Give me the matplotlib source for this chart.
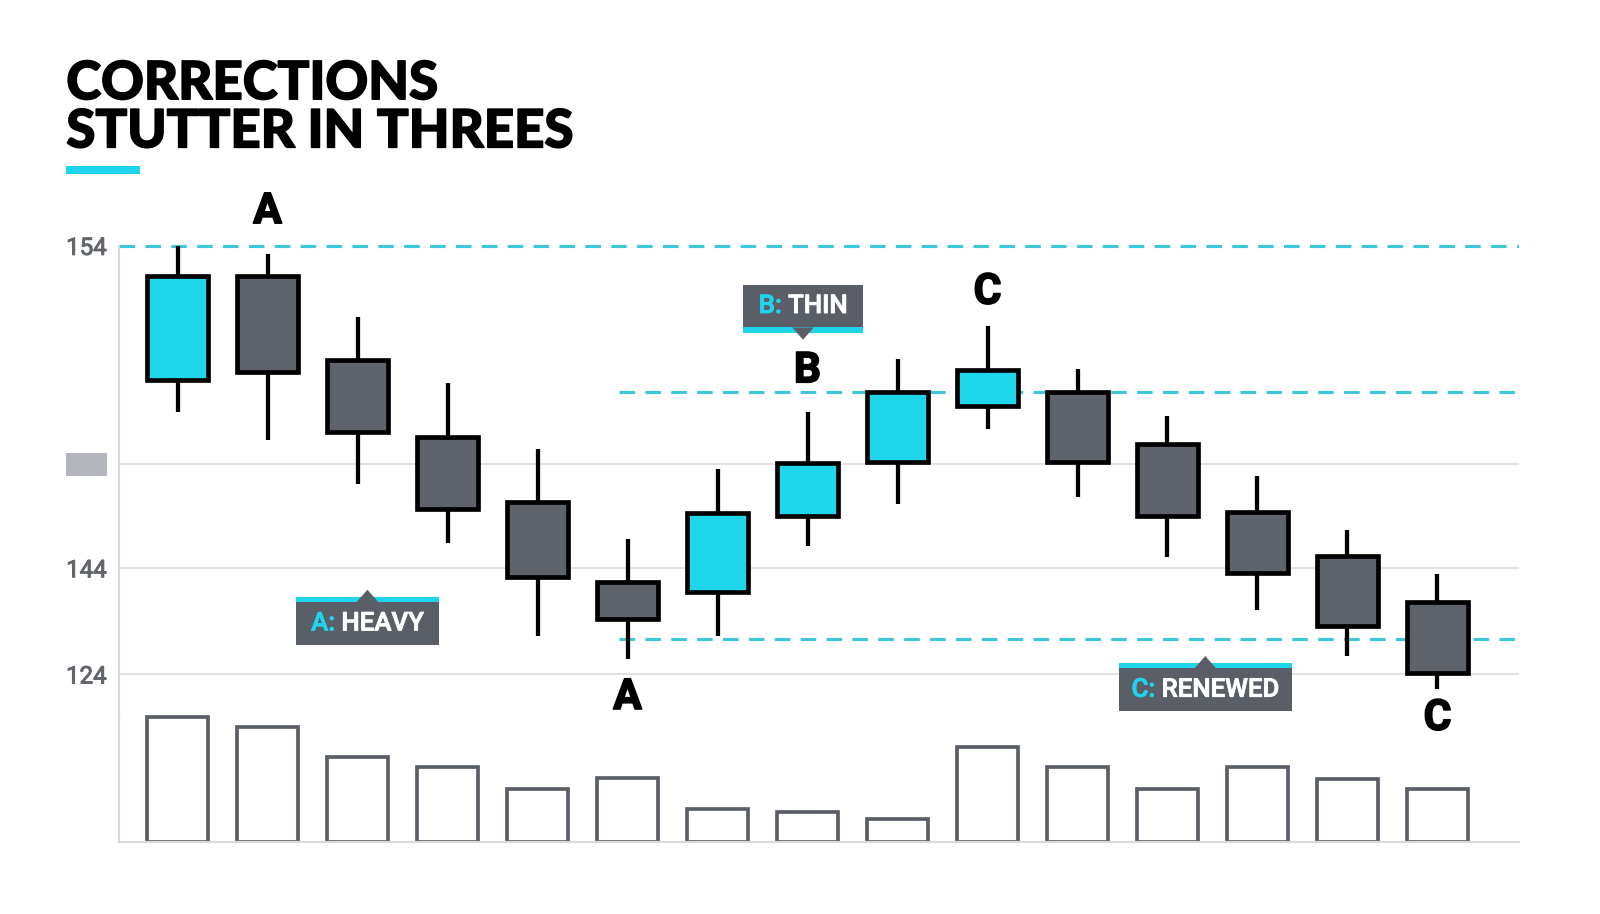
import matplotlib
matplotlib.use('Agg')
import matplotlib.pyplot as plt
import matplotlib.patheffects as pe
from matplotlib.patches import Rectangle, Polygon

# candle data (price units)
opens = [144.6, 151.9, 146.0, 140.6, 136.1, 130.5, 129.8, 135.1, 138.9, 142.8, 143.8, 140.1, 135.4, 132.3, 129.1]
closes = [151.9, 145.2, 141.0, 135.6, 130.8, 127.9, 135.3, 138.8, 143.8, 145.3, 138.9, 135.1, 131.1, 127.4, 124.1]
highs = [154.0, 153.4, 149.0, 144.4, 139.8, 133.5, 138.4, 142.4, 146.1, 148.4, 145.4, 142.1, 137.9, 134.1, 131.0]
lows = [142.4, 140.4, 137.3, 133.2, 126.7, 125.1, 126.7, 133.0, 135.9, 141.2, 136.4, 132.2, 128.5, 125.3, 123.0]
volume = [122, 113, 83, 73, 52, 63, 32, 29, 22, 93, 73, 52, 73, 62, 52]

# wave letters: (candle index, letter, above/below)
wave_labels = [(1, 'A', 'top'), (5, 'A', 'bottom'), (7, 'B', 'top'), (9, 'C', 'top'), (14, 'C', 'bottom')]
label_gap = [42, 38, 40, 33, 29]  # px from wick end to letter centre

# y ticks (positions, labels as shown)
tick_pos = [154.0, 138.71, 131.43, 124.0]
tick_lab = ['154', '', '144', '124']

# dashed levels: (price, start x)
levels = [(154.0, -0.65), (143.79, 4.9), (126.5, 4.9)]

# callouts: (prefix, text, centre x, box bottom price, pointer side, width)
callouts = [('A:', 'HEAVY', 2.11, 126.07, 'up', 1.587),
            ('B:', 'THIN', 6.95, 148.29, 'down', 1.338),
            ('C:', 'RENEWED', 11.42, 121.43, 'up', 1.916)]

CYAN = '#1fd5ec'
DASH = '#3cc8d9'
GRAY = '#5f646c'
DARK = '#5a5e66'
GRID = '#e2e2e2'

# coordinates below were read on a 1568 px wide view of the 1600 px chart
W, H = 1568.0, 914 * 1568 / 1600
S = 1600 / 1568

plt.rcParams['font.family'] = ['Roboto', 'DejaVu Sans']

fig = plt.figure(figsize=(16, 9.14), dpi=100)
ax = fig.add_axes([117 / W, 1 - 700 / H, 1372 / W, 510 / H])
axv = fig.add_axes([117 / W, 1 - 825 / H, 1372 / W, 125 / H], sharex=ax)
ax.set_zorder(3)
ax.patch.set_visible(False)

ax.set_xlim(-0.646, 14.91)
ax.set_ylim(121.21, 157.64)

for p in tick_pos[1:]:
    ax.axhline(p, color=GRID, lw=1.5 * S, zorder=0)

for lv, x0 in levels:
    ax.plot([x0, 14.91], [lv, lv], color=DASH, lw=2.2 * S, ls=(0, (5, 3.3)), zorder=1)

w = 0.68
for i in range(len(opens)):
    o, c, h, l = opens[i], closes[i], highs[i], lows[i]
    up = c > o
    ax.plot([i, i], [l, h], color='black', lw=3 * S, zorder=2, solid_capstyle='butt')
    ax.add_patch(Rectangle((i - w / 2, min(o, c)), w, abs(c - o),
                           facecolor=CYAN if up else GRAY, edgecolor='black', lw=3.3 * S, zorder=3))

for (i, letter, side), g in zip(wave_labels, label_gap):
    off = g * S * 0.72
    if side == 'top':
        xy, dy = (i, highs[i]), off
    else:
        xy, dy = (i, lows[i]), -off
    ax.annotate(letter, xy, xytext=(0, dy), textcoords='offset points',
                ha='center', va='center', fontsize=30 * S, fontweight='bold', color='black',
                path_effects=[pe.withStroke(linewidth=1.2, foreground='black')])

# callout boxes
bh = 3.0
strip = 0.36
fs = 18.2 * S
renderer = fig.canvas.get_renderer()
for pre, txt, xc, yb, side, bw in callouts:
    ax.add_patch(Rectangle((xc - bw / 2, yb), bw, bh, facecolor=DARK, edgecolor='none', zorder=5, clip_on=False))
    if side == 'up':
        sy = yb + bh
        ax.add_patch(Rectangle((xc - bw / 2, sy), bw, strip, facecolor=CYAN, edgecolor='none', zorder=5, clip_on=False))
        ax.add_patch(Polygon([(xc - 0.12, sy), (xc + 0.12, sy), (xc, sy + 0.86)], closed=True,
                             facecolor=DARK, edgecolor='none', zorder=6, clip_on=False))
    else:
        sy = yb - strip
        ax.add_patch(Rectangle((xc - bw / 2, sy), bw, strip, facecolor=CYAN, edgecolor='none', zorder=5, clip_on=False))
        ax.add_patch(Polygon([(xc - 0.12, yb), (xc + 0.12, yb), (xc, sy - 0.5)], closed=True,
                             facecolor=DARK, edgecolor='none', zorder=6, clip_on=False))
    yc = yb + bh / 2
    tmp = ax.text(xc, yc, pre + ' ' + txt, fontsize=fs, fontweight='medium')
    tw = tmp.get_window_extent(renderer).width
    tmp.remove()
    xd = ax.transData.transform((xc, yc))[0] - tw / 2
    x_left = ax.transData.inverted().transform((xd, 0))[0]
    tp = ax.text(x_left, yc, pre, ha='left', va='center', fontsize=fs,
                 color=CYAN, fontweight='medium', zorder=8,
                 path_effects=[pe.withStroke(linewidth=0.6, foreground=CYAN)])
    ax.annotate(' ' + txt, xy=(1, 0.5), xycoords=tp, ha='left', va='center', fontsize=fs,
                color='white', fontweight='medium', zorder=8,
                path_effects=[pe.withStroke(linewidth=0.6, foreground='white')])

ax.set_yticks(tick_pos)
ax.set_yticklabels(tick_lab)
ax.tick_params(axis='y', length=0, pad=9 * S, labelsize=17 * S, labelcolor='#62666c')
for lab in ax.get_yticklabels():
    lab.set_path_effects([pe.withStroke(linewidth=0.7, foreground='#62666c')])
ax.tick_params(axis='x', bottom=False, labelbottom=False)
for s in ['top', 'right', 'bottom']:
    ax.spines[s].set_visible(False)
ax.spines['left'].set_color('#d9d9d9')
ax.spines['left'].set_linewidth(1.5 * S)
ax.spines['left'].set_bounds(121.21, 154.0)
ax.add_patch(Rectangle((-0.0379, 138.71 - 0.785), 0.02915, 1.57, transform=ax.get_yaxis_transform(),
                       facecolor='#b3b6bc', edgecolor='none', clip_on=False))

# volume
axv.bar(range(len(volume)), volume, width=w, facecolor='white', edgecolor=DARK, lw=2.6 * S)
axv.set_ylim(0, 125)
axv.set_yticks([])
axv.tick_params(axis='x', bottom=False, labelbottom=False)
for s in ['top', 'right']:
    axv.spines[s].set_visible(False)
for s in ['left', 'bottom']:
    axv.spines[s].set_color('#d9d9d9')
    axv.spines[s].set_linewidth(1.5 * S)

# title
fig.text(65 / W, 1 - 58 / H, 'CORRECTIONS\nSTUTTER IN THREES', ha='left', va='top',
         fontsize=38, fontweight='black', family=['Lato', 'DejaVu Sans'], linespacing=0.98, color='black',
         path_effects=[pe.withStroke(linewidth=1.1, foreground='black')])
fig.add_artist(Rectangle((65 / W, 1 - 171 / H), 72 / W, 8 / H, transform=fig.transFigure,
                         facecolor=CYAN, edgecolor='none'))

fig.savefig('out.png', dpi=100, facecolor='white')
